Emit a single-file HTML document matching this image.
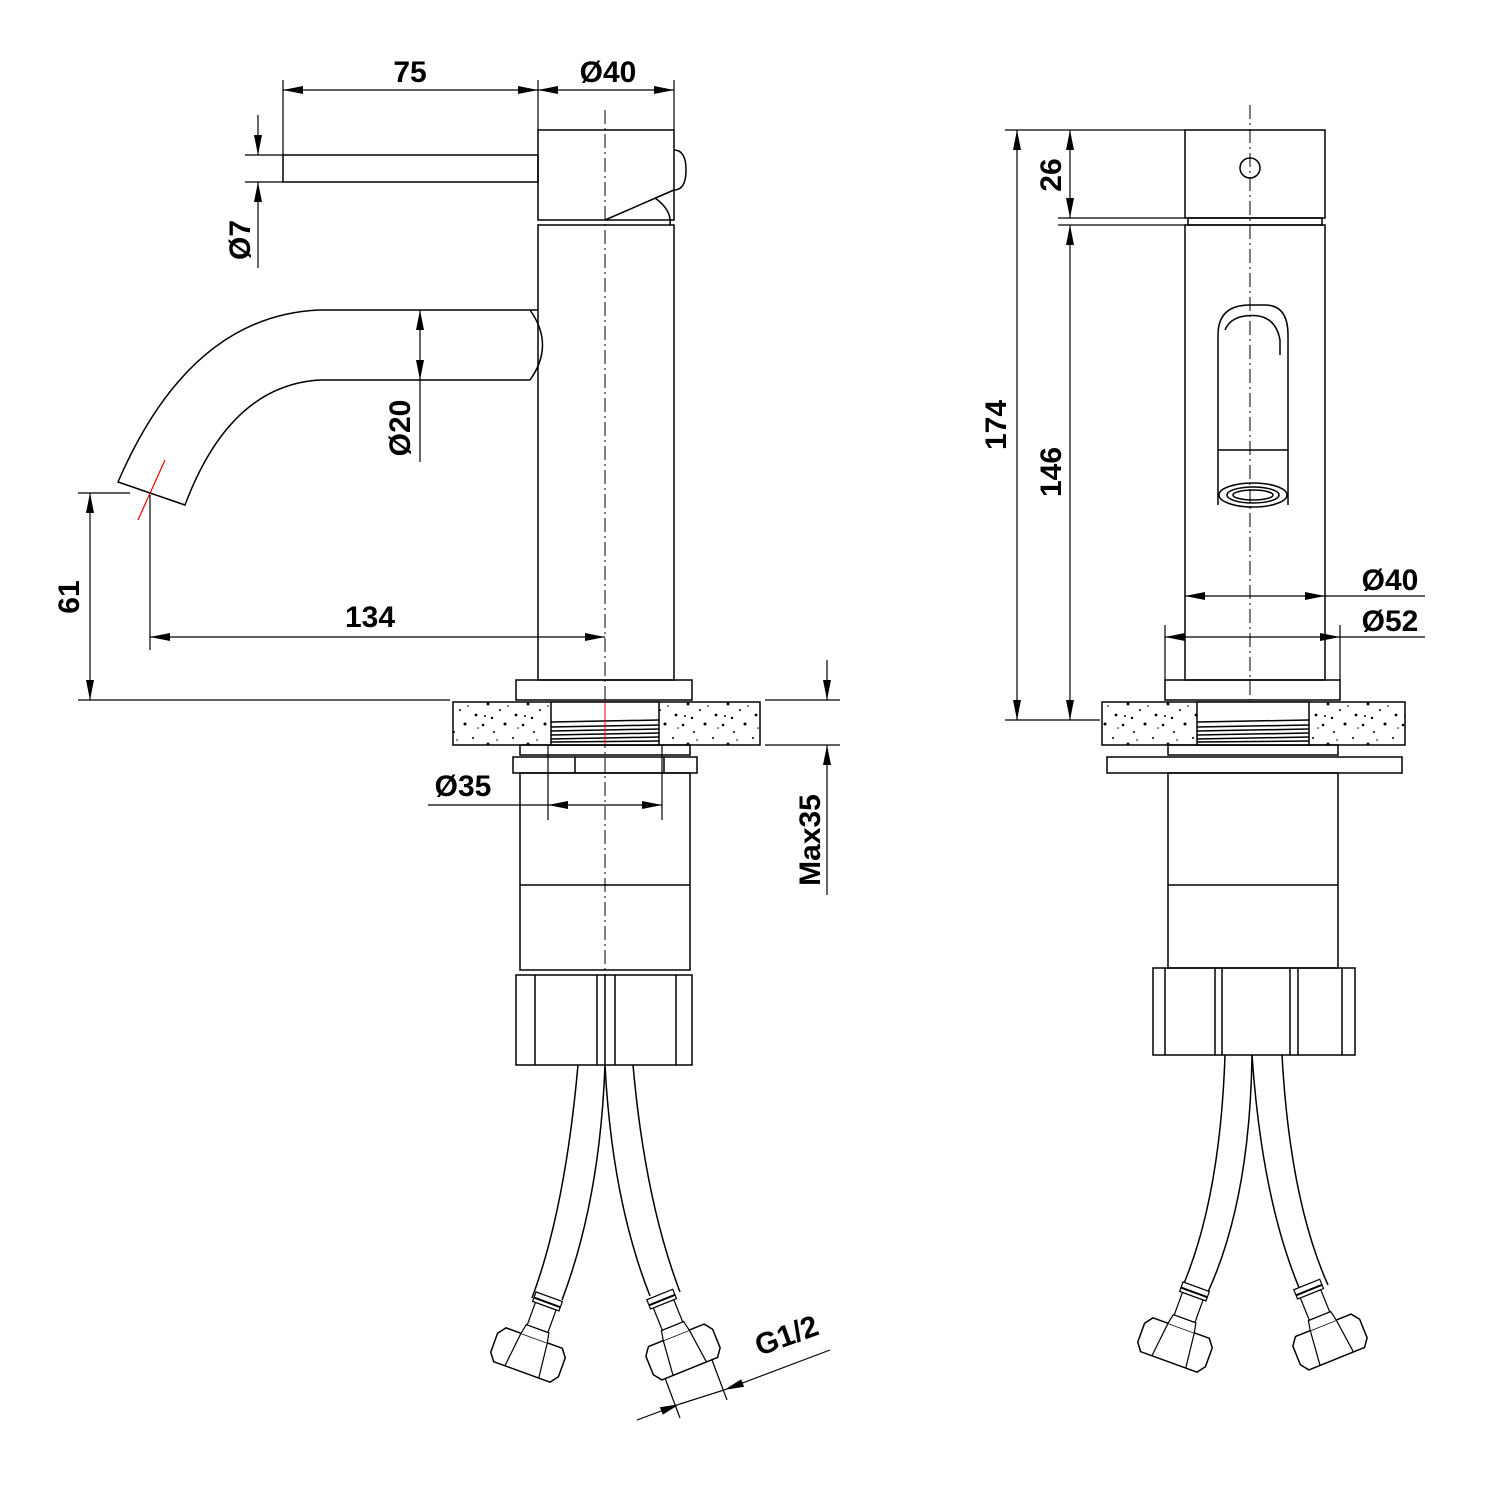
<!DOCTYPE html>
<html><head><meta charset="utf-8"><style>html,body{margin:0;padding:0;background:#fff}svg{display:block}text{font-family:"Liberation Sans",sans-serif;font-weight:bold;font-size:30px;fill:#000}</style></head>
<body>
<svg width="1500" height="1500" viewBox="0 0 1500 1500" xmlns="http://www.w3.org/2000/svg">
<defs>
<marker id="a" viewBox="0 0 20 8" refX="20" refY="4" markerWidth="20" markerHeight="8" orient="auto-start-reverse" markerUnits="userSpaceOnUse"><path d="M0,0 L20,4 L0,8 z" fill="#000"/></marker>
<pattern id="sp" width="40" height="40" patternUnits="userSpaceOnUse">
<rect width="40" height="40" fill="#fff"/>
<g fill="#000"><circle cx="3" cy="5" r="1.3"/><circle cx="14" cy="12" r="1"/><circle cx="25" cy="4" r="1.5"/><circle cx="33" cy="18" r="1"/><circle cx="8" cy="24" r="1.5"/><circle cx="20" cy="30" r="1"/><circle cx="36" cy="35" r="1.4"/><circle cx="28" cy="26" r=".8"/><circle cx="5" cy="36" r="1"/><circle cx="17" cy="20" r=".8"/><circle cx="38" cy="8" r=".8"/><circle cx="12" cy="38" r="1.2"/></g>
</pattern>
<g id="nut">
<path d="M-30,-18 L30,-18 L36,-10 L36,10 L30,18 L-30,18 L-36,10 L-36,-10 Z" fill="#fff" stroke="#000" stroke-width="1.5"/>
<line x1="-14" y1="-18" x2="-18" y2="18" stroke="#000" stroke-width="1.2"/><line x1="14" y1="-18" x2="18" y2="18" stroke="#000" stroke-width="1.2"/>
<path d="M-14,-18 L-12,-28 L12,-28 L14,-18" fill="#fff" stroke="#000" stroke-width="1.2"/>
<rect x="-11" y="-52" width="22" height="24" fill="#fff" stroke="#000" stroke-width="1.2"/>
<rect x="-14" y="-62" width="28" height="10" fill="#fff" stroke="#000" stroke-width="1.2"/>
<line x1="-14" y1="-56" x2="14" y2="-56" stroke="#000" stroke-width="2"/>
</g>
</defs>
<g fill="none" stroke="#000" stroke-width="1.5">
<!-- LEFT VIEW -->
<line x1="605" y1="110" x2="605" y2="1070" stroke-dasharray="14,4,2,4" stroke-width="1"/>
<rect x="538" y="130" width="136" height="90"/>
<path d="M674,150 Q686,150 686,170 Q686,190 674,190"/>
<path d="M605,220 L674,190"/>
<path d="M655,198 Q672,210 670,225"/>
<rect x="283" y="155" width="255" height="27"/>
<rect x="538" y="225" width="136" height="455"/>
<path d="M538,310 L320,310 Q190,315 118,482 L185,505 Q230,385 320,380 L530,380"/>
<path d="M530,310 Q555,345 530,380"/>
<line x1="138" y1="520" x2="165" y2="460" stroke="#e00" stroke-width="1.2"/>
<rect x="516" y="680" width="176" height="20"/>
<rect x="453" y="702" width="307" height="43" fill="url(#sp)"/>
<rect x="551" y="702" width="108" height="43" fill="#fff"/>
<g stroke-width="1.5"><line x1="551" y1="722" x2="659" y2="720"/><line x1="551" y1="727" x2="659" y2="725"/><line x1="551" y1="731" x2="659" y2="729"/><line x1="551" y1="735" x2="659" y2="733"/><line x1="551" y1="739" x2="659" y2="737"/><line x1="551" y1="742" x2="659" y2="741"/></g>
<line x1="605" y1="702" x2="605" y2="745" stroke="#e00" stroke-width="1"/>
<rect x="520" y="745" width="170" height="10"/>
<rect x="513" y="757" width="184" height="16"/><line x1="575" y1="757" x2="575" y2="773"/><line x1="664" y1="757" x2="664" y2="773"/>
<rect x="520" y="773" width="170" height="197"/><line x1="520" y1="885" x2="690" y2="885"/>
<rect x="516" y="975" width="176" height="90"/>
<line x1="535" y1="975" x2="535" y2="1065"/><line x1="597" y1="975" x2="597" y2="1065"/><line x1="605" y1="975" x2="605" y2="1065"/><line x1="615" y1="975" x2="615" y2="1065"/><line x1="676" y1="975" x2="676" y2="1065"/>
<path d="M578,1065 Q565,1210 532,1298"/><path d="M605,1065 Q600,1200 562,1300"/>
<path d="M605,1065 Q612,1200 650,1296"/><path d="M633,1065 Q645,1200 680,1292"/>
<use href="#nut" transform="translate(528,1355) rotate(20)"/>
<use href="#nut" transform="translate(683,1352) rotate(-22)"/>
<!-- dims left -->
<g stroke-width="1.2">
<line x1="283" y1="80" x2="283" y2="155"/><line x1="538" y1="80" x2="538" y2="130"/><line x1="674" y1="80" x2="674" y2="130"/>
<line x1="283" y1="90" x2="538" y2="90" marker-start="url(#a)" marker-end="url(#a)"/>
<line x1="538" y1="90" x2="674" y2="90" marker-start="url(#a)" marker-end="url(#a)"/>
<line x1="245" y1="155" x2="283" y2="155"/><line x1="245" y1="182" x2="283" y2="182"/>
<line x1="258" y1="115" x2="258" y2="155" marker-end="url(#a)"/><line x1="258" y1="268" x2="258" y2="182" marker-end="url(#a)"/>
<line x1="420" y1="310" x2="420" y2="380" marker-start="url(#a)" marker-end="url(#a)"/><line x1="420" y1="380" x2="420" y2="462"/>
<line x1="78" y1="493" x2="130" y2="493"/><line x1="90" y1="493" x2="90" y2="700" marker-start="url(#a)" marker-end="url(#a)"/>
<line x1="78" y1="700" x2="450" y2="700"/>
<line x1="150" y1="495" x2="150" y2="650"/>
<line x1="150" y1="637" x2="605" y2="637" marker-start="url(#a)" marker-end="url(#a)"/>
<line x1="765" y1="700" x2="840" y2="700"/><line x1="765" y1="745" x2="840" y2="745"/>
<line x1="827" y1="660" x2="827" y2="700" marker-end="url(#a)"/><line x1="827" y1="895" x2="827" y2="745" marker-end="url(#a)"/>
<line x1="548" y1="745" x2="548" y2="820"/><line x1="662" y1="745" x2="662" y2="820"/>
<line x1="428" y1="805" x2="548" y2="805"/><line x1="548" y1="805" x2="662" y2="805" marker-start="url(#a)" marker-end="url(#a)"/>
<line x1="665" y1="1378" x2="680" y2="1418"/><line x1="712" y1="1360" x2="727" y2="1400"/>
<line x1="637" y1="1420" x2="680" y2="1404" marker-end="url(#a)"/><line x1="830" y1="1350" x2="724" y2="1390" marker-end="url(#a)"/>
<line x1="680" y1="1404" x2="724" y2="1390"/>
</g>
<!-- RIGHT VIEW -->
<line x1="1250" y1="105" x2="1250" y2="700" stroke-dasharray="14,4,2,4" stroke-width="1"/>
<rect x="1185" y="130" width="140" height="88"/>
<rect x="1188" y="218" width="134" height="7"/>
<circle cx="1250" cy="168" r="10"/>
<rect x="1185" y="225" width="140" height="455"/>
<path d="M1218,505 L1218,335 Q1218,305 1250,305 L1265,305 Q1288,305 1288,335 L1288,505"/>
<path d="M1225,330 Q1230,318 1245,316 Q1275,312 1280,340 L1280,355"/>
<line x1="1218" y1="450" x2="1288" y2="450"/>
<ellipse cx="1253" cy="495" rx="34" ry="12"/><ellipse cx="1253" cy="495" rx="26" ry="8"/><ellipse cx="1253" cy="495" rx="20" ry="5"/>
<rect x="1165" y="680" width="175" height="20"/>
<rect x="1102" y="702" width="303" height="43" fill="url(#sp)"/>
<rect x="1197" y="702" width="112" height="43" fill="#fff"/>
<g><line x1="1197" y1="722" x2="1309" y2="720"/><line x1="1197" y1="727" x2="1309" y2="725"/><line x1="1197" y1="731" x2="1309" y2="729"/><line x1="1197" y1="735" x2="1309" y2="733"/><line x1="1197" y1="739" x2="1309" y2="737"/><line x1="1197" y1="742" x2="1309" y2="741"/></g>
<rect x="1168" y="745" width="170" height="10"/>
<rect x="1107" y="757" width="295" height="16"/>
<rect x="1168" y="773" width="170" height="195"/><line x1="1168" y1="885" x2="1338" y2="885"/>
<rect x="1153" y="968" width="202" height="87"/>
<line x1="1165" y1="968" x2="1165" y2="1055"/><line x1="1215" y1="968" x2="1215" y2="1055"/><line x1="1222" y1="968" x2="1222" y2="1055"/><line x1="1290" y1="968" x2="1290" y2="1055"/><line x1="1298" y1="968" x2="1298" y2="1055"/><line x1="1342" y1="968" x2="1342" y2="1055"/>
<path d="M1225,1055 Q1220,1200 1182,1288"/><path d="M1252,1055 Q1250,1200 1208,1292"/>
<path d="M1252,1055 Q1262,1200 1300,1290"/><path d="M1282,1055 Q1290,1200 1328,1285"/>
<use href="#nut" transform="translate(1175,1345) rotate(20)"/>
<use href="#nut" transform="translate(1330,1342) rotate(-22)"/>
<g stroke-width="1.2">
<line x1="1005" y1="130" x2="1185" y2="130"/><line x1="1058" y1="218" x2="1185" y2="218"/><line x1="1058" y1="225" x2="1185" y2="225"/><line x1="1005" y1="720" x2="1100" y2="720"/>
<line x1="1017" y1="130" x2="1017" y2="720" marker-start="url(#a)" marker-end="url(#a)"/>
<line x1="1070" y1="130" x2="1070" y2="218" marker-start="url(#a)" marker-end="url(#a)"/>
<line x1="1070" y1="225" x2="1070" y2="720" marker-start="url(#a)" marker-end="url(#a)"/>
<line x1="1185" y1="596" x2="1325" y2="596" marker-start="url(#a)" marker-end="url(#a)"/><line x1="1325" y1="596" x2="1425" y2="596"/>
<line x1="1165" y1="625" x2="1165" y2="680"/><line x1="1340" y1="625" x2="1340" y2="680"/>
<line x1="1165" y1="637" x2="1340" y2="637" marker-start="url(#a)" marker-end="url(#a)"/><line x1="1340" y1="637" x2="1425" y2="637"/>
</g>
</g>
<text x="410" y="82" text-anchor="middle">75</text>
<text x="608" y="82" text-anchor="middle">Ø40</text>
<text x="370" y="627" text-anchor="middle">134</text>
<text x="463" y="796" text-anchor="middle">Ø35</text>
<text transform="translate(250,240) rotate(-90)" text-anchor="middle">Ø7</text>
<text transform="translate(410,428) rotate(-90)" text-anchor="middle">Ø20</text>
<text transform="translate(79,597) rotate(-90)" text-anchor="middle">61</text>
<text transform="translate(820,840) rotate(-90)" text-anchor="middle">Max35</text>
<text transform="translate(790,1345) rotate(-20)" text-anchor="middle">G1/2</text>
<text transform="translate(1006,425) rotate(-90)" text-anchor="middle">174</text>
<text transform="translate(1061,175) rotate(-90)" text-anchor="middle">26</text>
<text transform="translate(1061,472) rotate(-90)" text-anchor="middle">146</text>
<text x="1390" y="590" text-anchor="middle">Ø40</text>
<text x="1390" y="631" text-anchor="middle">Ø52</text>
</svg>
</body></html>
